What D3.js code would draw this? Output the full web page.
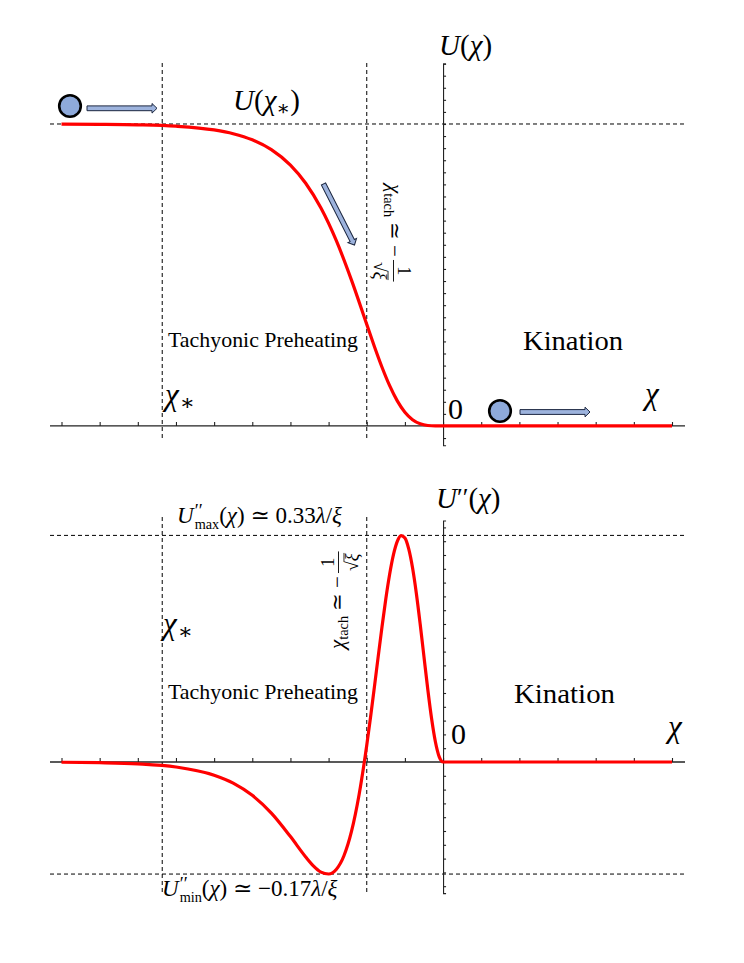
<!DOCTYPE html>
<html lang="en">
<head>
<meta charset="UTF-8">
<title>Tachyonic preheating and kination</title>
<script src="https://d3js.org/d3.v7.min.js"></script>
<style>
  body { margin: 0; background: #fff; }
  svg text { font-family: "Liberation Serif", "DejaVu Serif", serif; fill: #000; white-space: pre; }
  .dash { stroke: #000; stroke-width: 1; stroke-dasharray: 4,3; fill: none; }
  .ax line, .ax path { stroke: #222; stroke-width: 1.1; }
</style>
</head>
<body>
<div id="chart"></div>
<script>
// values, units lambda = xi = 1
const chiU = [-5, -4.5, -4, -3.5, -3, -2.75, -2.5, -2.25, -2, -1.8, -1.6, -1.4, -1.2, -1, -0.9, -0.8, -0.7, -0.6, -0.5, -0.4, -0.3, -0.2, -0.1, 0, 1, 2, 3];
const valU = [0.24991, 0.24975, 0.24933, 0.24818, 0.24508, 0.24196, 0.23688, 0.22874, 0.21592, 0.20091, 0.18040, 0.15360, 0.12075, 0.08410, 0.06582, 0.04861, 0.03335, 0.02080, 0.01140, 0.00521, 0.00180, 0.00038, 0.00002, 0, 0, 0, 0];

const chiDD = [-5, -4.5, -4, -3.5, -3, -2.75, -2.5, -2.25, -2, -1.8, -1.7, -1.6, -1.5, -1.4, -1.3, -1.2, -1.1, -1, -0.95, -0.9, -0.85, -0.8, -0.75, -0.7, -0.65, -0.6, -0.55, -0.5, -0.45, -0.4, -0.35, -0.3, -0.25, -0.2, -0.15, -0.1, -0.05, 0, 1, 2, 3];
const valDD = [-0.00036, -0.00100, -0.00267, -0.00719, -0.01908, -0.03060, -0.04834, -0.07411, -0.10812, -0.13759, -0.15040, -0.15950, -0.16233, -0.15575, -0.13626, -0.10066, -0.0470, 0.02434, 0.06532, 0.10856, 0.15272, 0.19604, 0.23656, 0.27211, 0.30051, 0.31974, 0.32809, 0.32451, 0.30873, 0.28140, 0.24427, 0.20003, 0.15226, 0.10503, 0.06263, 0.02901, 0.00744, 0, 0, 0, 0];

const uStar = 0.25, uddMax = 0.3284, uddMin = -0.1624;
const chiStar = -3.68, chiTach = -1;
const xTicks = d3.range(-5, 3.001, 0.5);
const yTicksTop = d3.range(-0.01, 0.3001, 0.01);
const yTicksBot = d3.range(-0.18, 0.3401, 0.02);

const svg = d3.select("#chart").append("svg")
    .attr("width", 744)
    .attr("height", 963);

const x = d3.scaleLinear().domain([-5, 3]).range([61.5, 672]);
const yT = d3.scaleLinear().domain([-0.016, 0.30]).range([445.3, 63.6]);
const yB = d3.scaleLinear().domain([-0.19, 0.35]).range([893.1, 520.5]);

function panel(y, yTicks, chis, vals, hDash, vExtent) {
    const g = svg.append("g");

    hDash.forEach(v => g.append("line").attr("class", "dash")
        .attr("x1", 50).attr("x2", 685).attr("y1", y(v)).attr("y2", y(v)));
    [chiStar, chiTach].forEach(c => g.append("line").attr("class", "dash")
        .attr("x1", x(c)).attr("x2", x(c)).attr("y1", vExtent[0]).attr("y2", vExtent[1]));

    g.append("g").attr("class", "ax")
        .attr("transform", `translate(0,${y(0)})`)
        .call(d3.axisTop(x).tickValues(xTicks).tickSize(4).tickFormat(""))
        .call(a => a.select(".domain").remove());
    g.append("line").attr("class", "ax")
        .attr("x1", 50).attr("x2", 685).attr("y1", y(0)).attr("y2", y(0))
        .attr("stroke", "#222").attr("stroke-width", 1.3);

    g.append("g").attr("class", "ax")
        .attr("transform", `translate(${x(0)},0)`)
        .call(d3.axisRight(y).tickValues(yTicks).tickSize(3).tickSizeOuter(3).tickFormat(""))
        .call(a => a.select(".domain").attr("fill", "none").attr("stroke-width", 1.3));

    const line = d3.line()
        .x(d => x(d[0]))
        .y(d => y(d[1]))
        .curve(d3.curveMonotoneX);
    g.append("path")
        .datum(chis.map((c, i) => [c, vals[i]]))
        .attr("fill", "none")
        .attr("stroke", "#ff0000")
        .attr("stroke-width", 3.2)
        .attr("stroke-linejoin", "round")
        .attr("d", line);
}

panel(yT, yTicksTop, chiU, valU, [uStar], [63, 439]);
panel(yB, yTicksBot, chiDD, valDD, [uddMax, uddMin], [517, 893]);

// piecewise math text: each piece measured and placed after the previous one
function mathText(parent, pieces, size) {
    const g = parent.append("g");
    let cx = 0, prevStart = 0;
    pieces.forEach(p => {
        const start = p.stack ? prevStart : cx + (p.gap || 0);
        const el = g.append("text")
            .attr("x", start).attr("y", p.dy || 0)
            .attr("font-size", size * (p.s || 1))
            .attr("font-style", p.i ? "italic" : "normal")
            .text(p.t);
        const w = el.node().getComputedTextLength();
        if (p.stack) cx = Math.max(cx, start + w);
        else { prevStart = start; cx = start + w; }
    });
    return { g, width: cx };
}
function label(pieces, size, x0, y0) {
    const m = mathText(svg, pieces, size);
    m.g.attr("transform", `translate(${x0},${y0})`);
    return m;
}

const chiStarPieces = [{ t: "χ", i: 1 }, { t: "∗", s: 0.72, dy: 5, gap: 1 }];

// top panel labels
label([{ t: "U", i: 1 }, { t: "(" }, { t: "χ", i: 1 }, { t: ")" }], 29, 439, 55);
label([{ t: "U", i: 1 }, { t: "(" }, { t: "χ", i: 1 }, { t: "∗", s: 0.7, dy: 5 }, { t: ")" }], 29, 233, 110);
label(chiStarPieces, 31, 165, 405);
label([{ t: "0" }], 30, 448, 419);
label([{ t: "χ", i: 1 }], 31, 645, 404);
svg.append("text").attr("x", 168).attr("y", 347).attr("font-size", 21)
    .attr("textLength", 190).attr("lengthAdjust", "spacingAndGlyphs").text("Tachyonic Preheating");
svg.append("text").attr("x", 523).attr("y", 350).attr("font-size", 27)
    .attr("textLength", 100).attr("lengthAdjust", "spacingAndGlyphs").text("Kination");

// bottom panel labels
label([{ t: "U", i: 1 }, { t: "′′", s: 0.9, dy: -2 }, { t: "(" }, { t: "χ", i: 1 }, { t: ")" }], 29, 436, 508);
label([{ t: "U", i: 1 }, { t: "′′", s: 0.8, dy: -6, gap: 1 }, { t: "max", s: 0.62, dy: 6, stack: 1 },
       { t: "(" }, { t: "χ", i: 1 }, { t: ") ≃ 0.33" }, { t: "λ", i: 1 }, { t: "/" }, { t: "ξ", i: 1 }], 23, 177, 523);
label([{ t: "U", i: 1 }, { t: "′′", s: 0.8, dy: -6, gap: 1 }, { t: "min", s: 0.62, dy: 6, stack: 1 },
       { t: "(" }, { t: "χ", i: 1 }, { t: ") ≃ −0.17" }, { t: "λ", i: 1 }, { t: "/" }, { t: "ξ", i: 1 }], 23, 162, 896);
label(chiStarPieces, 31, 163, 634);
label([{ t: "0" }], 30, 451, 744);
label([{ t: "χ", i: 1 }], 31, 668, 737);
svg.append("text").attr("x", 168).attr("y", 699).attr("font-size", 21)
    .attr("textLength", 190).attr("lengthAdjust", "spacingAndGlyphs").text("Tachyonic Preheating");
svg.append("text").attr("x", 514).attr("y", 703).attr("font-size", 27)
    .attr("textLength", 101).attr("lengthAdjust", "spacingAndGlyphs").text("Kination");

// rotated chi_tach ~ -1/sqrt(xi) label
function tachLabel(x0, y0, angle) {
    const size = 21;
    const m = mathText(svg, [{ t: "χ", i: 1 }, { t: "tach", s: 0.68, dy: 4 }, { t: " ≃ −" }], size);
    const g = m.g.attr("transform", `translate(${x0},${y0}) rotate(${angle})`);
    const fs = 18;
    const den = g.append("g");
    const sq = den.append("text").attr("font-size", fs).attr("y", 14).text("√");
    const sw = sq.node().getComputedTextLength();
    const xi = den.append("text").attr("font-size", fs).attr("font-style", "italic")
        .attr("x", sw).attr("y", 14).text("ξ");
    const dw = sw + xi.node().getComputedTextLength();
    den.append("line").attr("x1", sw - 0.5).attr("x2", dw + 0.5)
        .attr("y1", 14 - fs * 0.78).attr("y2", 14 - fs * 0.78)
        .attr("stroke", "#000").attr("stroke-width", 0.8);
    const fw = dw + 4;
    const left = m.width + 3;
    den.attr("transform", `translate(${left + (fw - dw) / 2},0)`);
    g.append("line").attr("x1", left).attr("x2", left + fw).attr("y1", -5.5).attr("y2", -5.5)
        .attr("stroke", "#000").attr("stroke-width", 0.9);
    g.append("text").attr("font-size", fs).attr("x", left + fw / 2).attr("y", -10)
        .attr("text-anchor", "middle").text("1");
}
tachLabel(388, 184, 90);
tachLabel(344, 649, -90);

// balls and block arrows
function blockArrow(x1, y1, x2, y2) {
    const len = Math.hypot(x2 - x1, y2 - y1);
    const ang = Math.atan2(y2 - y1, x2 - x1) * 180 / Math.PI;
    const sh = 2.4, hh = 4.8, hl = 5;
    const pts = [[0, -sh], [len - hl, -sh], [len - hl, -hh], [len, 0], [len - hl, hh], [len - hl, sh], [0, sh]];
    svg.append("path")
        .attr("d", d3.line()(pts) + "Z")
        .attr("transform", `translate(${x1},${y1}) rotate(${ang})`)
        .attr("fill", "#9db3dd")
        .attr("stroke", "#1c2740")
        .attr("stroke-width", 1);
}
function ball(cx, cy) {
    svg.append("circle").attr("cx", cx).attr("cy", cy).attr("r", 10.8)
        .attr("fill", "#8eaadb").attr("stroke", "#000").attr("stroke-width", 2.6);
}
ball(70, 106);
blockArrow(87, 108.3, 157, 108.3);
ball(500, 411);
blockArrow(520, 412, 590, 412);
blockArrow(323.5, 184, 354.5, 245);
</script>
</body>
</html>
